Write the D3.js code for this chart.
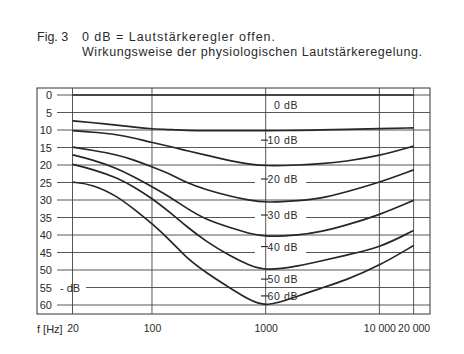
<!DOCTYPE html>
<html>
<head>
<meta charset="utf-8">
<script src="https://cdn.jsdelivr.net/npm/d3@7"></script>
<style>
  body { margin: 0; background: #fff; }
  text { font-family: "Liberation Sans", Arial, sans-serif; fill: #2a2a2a; }
</style>
</head>
<body>
<svg id="chart" width="464" height="354"></svg>
<script>
// frequencies (Hz) at which the curves were read
const freqs = [20, 30, 50, 70, 100, 150, 200, 300, 500, 700, 1000, 2000, 3000, 5000, 10000, 20000];

// attenuation (dB) per volume setting
const curve0  = [0, 0, 0, 0, 0, 0, 0, 0, 0, 0, 0, 0, 0, 0, 0, 0];
const curve10 = [7.4, 7.9, 8.6, 9.2, 9.7, 9.9, 10.1, 10.2, 10.2, 10.2, 10.2, 10.1, 10.0, 9.8, 9.6, 9.4];
const curve20 = [10.2, 10.6, 11.3, 12.3, 13.6, 14.8, 15.9, 17.2, 18.9, 19.7, 20.3, 20.0, 19.7, 19.0, 17.4, 14.6];
const curve30 = [14.9, 15.8, 17.1, 18.6, 20.5, 22.8, 25.0, 27.1, 29.0, 30.0, 30.8, 30.2, 29.6, 27.8, 25.0, 21.4];
const curve40 = [17.1, 18.5, 21.0, 23.5, 26.2, 29.5, 32.3, 35.7, 38.0, 39.5, 40.6, 40.0, 39.1, 37.3, 34.3, 30.1];
const curve50 = [19.8, 21.2, 23.7, 26.3, 29.5, 34.0, 37.5, 41.9, 46.2, 48.5, 50.3, 48.8, 47.5, 45.8, 43.7, 38.7];
const curve60 = [24.9, 25.5, 29.0, 32.7, 36.7, 42.0, 46.5, 50.8, 55.4, 58.3, 60.8, 57.2, 55.3, 53.0, 48.8, 43.0];

const curveNames = ["0 dB", "10 dB", "20 dB", "30 dB", "40 dB", "50 dB", "60 dB"];
const labelLevels = [2.9, 12.9, 24, 34.3, 43.3, 52.6, 57.4]; // where each name sits (dB)

const yTicks = [0, 5, 10, 15, 20, 25, 30, 35, 40, 45, 50, 55, 60];
const xTicks = [20, 100, 1000, 10000, 20000];
const xTickLabels = ["20", "100", "1000", "10 000", "20 000"];

const allCurves = [curve0, curve10, curve20, curve30, curve40, curve50, curve60];

const svg = d3.select("#chart");

const frame = { left: 37, right: 430, top: 88, bottom: 314 };

const x = d3.scaleLog().domain([20, 20000]).range([72.5, 413.6]);
const y = d3.scaleLinear().domain([0, 60]).range([95, 305]);

// title
svg.append("text").attr("x", 37).attr("y", 41).style("font-size", "12.5px").text("Fig. 3");
svg.append("text").attr("x", 82).attr("y", 41).style("font-size", "12.5px")
  .attr("textLength", 193).text("0 dB = Lautstärkeregler offen.");
svg.append("text").attr("x", 82).attr("y", 56).style("font-size", "12.5px")
  .attr("textLength", 340).text("Wirkungsweise der physiologischen Lautstärkeregelung.");

// frame
svg.append("rect")
  .attr("x", frame.left).attr("y", frame.top)
  .attr("width", frame.right - frame.left).attr("height", frame.bottom - frame.top)
  .attr("fill", "none").attr("stroke", "#333").attr("stroke-width", 1);

// horizontal grid, with gaps where the curve names sit on a line
const grid = svg.append("g").attr("stroke", "#444").attr("stroke-width", 0.9);
yTicks.forEach(v => {
  const start = v === 55 ? 86 : 57;
  if (v === 25 || v === 35 || v === 45) {
    grid.append("line").attr("x1", start).attr("x2", 255).attr("y1", y(v)).attr("y2", y(v));
    grid.append("line").attr("x1", 306).attr("x2", frame.right).attr("y1", y(v)).attr("y2", y(v));
  } else {
    grid.append("line").attr("x1", start).attr("x2", frame.right).attr("y1", y(v)).attr("y2", y(v));
  }
});

// vertical grid
xTicks.forEach(f => {
  grid.append("line").attr("x1", x(f)).attr("x2", x(f))
    .attr("y1", frame.top).attr("y2", frame.bottom);
});

// y tick labels
svg.append("g")
  .attr("transform", "translate(52,0)")
  .call(d3.axisLeft(y).tickValues(yTicks).tickSize(0).tickPadding(0))
  .call(g => g.select(".domain").remove())
  .selectAll("text")
  .style("font-size", "11px").style("font-family", "Liberation Sans, Arial, sans-serif")
  .attr("fill", "#2a2a2a");

svg.append("text").attr("x", 60).attr("y", y(55) + 4).style("font-size", "11px").text("- dB");

// x tick labels
svg.append("g")
  .attr("transform", "translate(0,325)")
  .call(d3.axisBottom(x).tickValues(xTicks).tickFormat((d, i) => xTickLabels[i]).tickSize(0).tickPadding(0))
  .call(g => g.select(".domain").remove())
  .selectAll("text")
  .style("font-size", "10.5px").style("font-family", "Liberation Sans, Arial, sans-serif")
  .attr("fill", "#2a2a2a");

svg.append("text").attr("x", 37).attr("y", 333).style("font-size", "11px").text("f [Hz]");

// curves
const line = d3.line()
  .x((d, i) => x(freqs[i]))
  .y(d => y(d))
  .curve(d3.curveBasis);

svg.append("g").selectAll("path")
  .data(allCurves)
  .join("path")
  .attr("d", line)
  .attr("fill", "none")
  .attr("stroke", "#262626")
  .attr("stroke-width", 1.7);

// curve names
curveNames.forEach((name, i) => {
  const ly = y(labelLevels[i]);
  if (i > 0) {
    svg.append("line").attr("x1", 261).attr("x2", 268).attr("y1", ly).attr("y2", ly)
      .attr("stroke", "#333").attr("stroke-width", 1.2);
  }
  svg.append("text").attr("x", 298).attr("y", ly + 4)
    .attr("text-anchor", "end").style("font-size", "10.5px")
    .style("letter-spacing", "0.6px")
    .text(name.replace(" ", "  "));
});
</script>
</body>
</html>
